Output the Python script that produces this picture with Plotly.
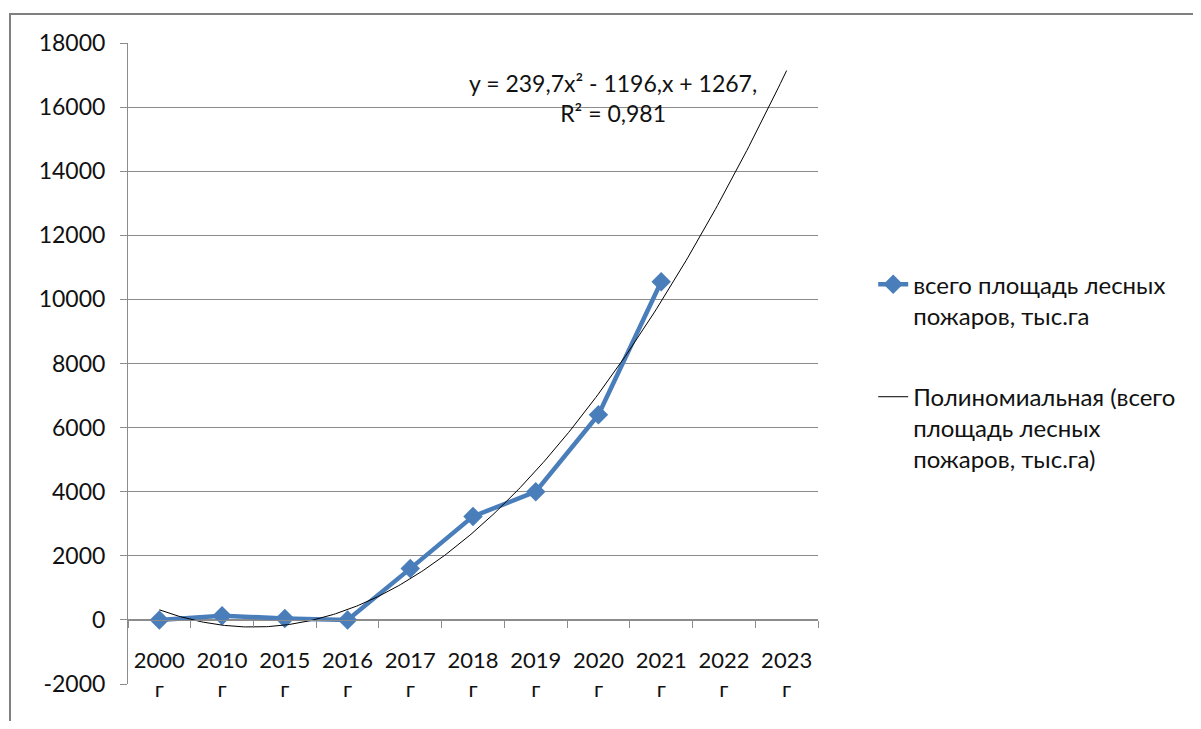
import numpy as np
import plotly.graph_objects as go

# ---- data ----
categories = ["2000", "2010", "2015", "2016", "2017", "2018", "2019", "2020", "2021", "2022", "2023"]
year_suffix = "г"
area_values = [0, 130, 45, 0, 1600, 3230, 4000, 6400, 10550]  # всего площадь лесных пожаров, тыс.га
series_name = "всего площадь лесных<br>пожаров, тыс.га"
trend_name = "Полиномиальная (всего<br>площадь лесных<br>пожаров, тыс.га)"
equation_text = "y = 239,7x² - 1196,x + 1267,<br>R² = 0,981"
y_ticks = list(range(-2000, 18001, 2000))

# ---- derived ----
n_cat = len(categories)
x_pos = list(range(1, n_cat + 1))
x_data = x_pos[:len(area_values)]
tick_labels = [f"{c}<br>{year_suffix}" for c in categories]
y_tick_labels = [str(v) for v in y_ticks]

coef = np.polyfit(x_data, area_values, 2)
x_trend = np.linspace(1, n_cat, 300)
y_trend = np.polyval(coef, x_trend)

y_min, y_max = y_ticks[0], y_ticks[-1]
zero_frac = (0 - y_min) / (y_max - y_min)

FONT = "Lato, 'Open Sans', sans-serif"
BLUE = "#4A7EBB"
GRID = "#8c8c8c"
TXT = "#111111"

# page offset (body margin) compensation
OFF = 8
W, H = 1201 - 2 * OFF, 729 - 2 * OFF
PL, PT, PW, PH = 128 - OFF, 43 - OFF, 690, 641

fig = go.Figure()
fig.add_trace(go.Scatter(
    x=x_data, y=area_values, mode="lines+markers", name=series_name,
    line=dict(color=BLUE, width=4.5),
    marker=dict(symbol="diamond", size=15, color=BLUE),
    legendgroup="a",
))
fig.add_trace(go.Scatter(
    x=x_trend, y=y_trend, mode="lines", name=trend_name,
    line=dict(color="black", width=1),
    legendgroup="b",
))

fig.update_layout(
    width=W, height=H,
    margin=dict(l=PL, r=W - PL - PW, t=PT, b=H - PT - PH),
    paper_bgcolor="white", plot_bgcolor="white",
    font=dict(family=FONT, size=22, color=TXT),
    showlegend=True,
    legend=dict(x=1.08, xanchor="left", y=0.658, yanchor="top",
                valign="top", tracegroupgap=47,
                font=dict(family=FONT, size=24, color=TXT),
                bgcolor="rgba(0,0,0,0)"),
    xaxis=dict(
        range=[0.5, n_cat + 0.5],
        tickmode="array", tickvals=x_pos, ticktext=tick_labels,
        ticks="", showgrid=False, zeroline=False,
        showline=True, linecolor=GRID, linewidth=1,
        anchor="free", position=zero_frac,
        ticklabelstandoff=21,
        tickfont=dict(family=FONT, size=22, color=TXT),
        minor=dict(tickmode="array",
                   tickvals=[p - 0.5 for p in x_pos] + [n_cat + 0.5],
                   ticks="outside", ticklen=7, tickcolor=GRID, tickwidth=1,
                   showgrid=False),
    ),
    yaxis=dict(
        range=[y_min, y_max],
        tickmode="array", tickvals=y_ticks, ticktext=y_tick_labels,
        showgrid=True, gridcolor=GRID, gridwidth=1,
        zeroline=False,
        showline=True, linecolor=GRID, linewidth=1,
        ticks="outside", ticklen=7, tickcolor=GRID,
        ticklabelstandoff=10,
        tickfont=dict(family=FONT, size=23, color=TXT),
    ),
    annotations=[dict(
        xref="paper", yref="paper", x=0.703, y=0.914,
        xanchor="center", yanchor="middle", showarrow=False,
        text=equation_text, align="center",
        font=dict(family=FONT, size=23, color=TXT),
    )],
    shapes=[dict(
        type="rect", xref="paper", yref="paper",
        x0=(10 - 128) / PW, x1=(1240 - 128) / PW,
        y0=(684 - 780) / PH, y1=(684 - 14) / PH,
        line=dict(color="#808080", width=2), layer="above",
    )],
)

fig.write_html("out.html")
